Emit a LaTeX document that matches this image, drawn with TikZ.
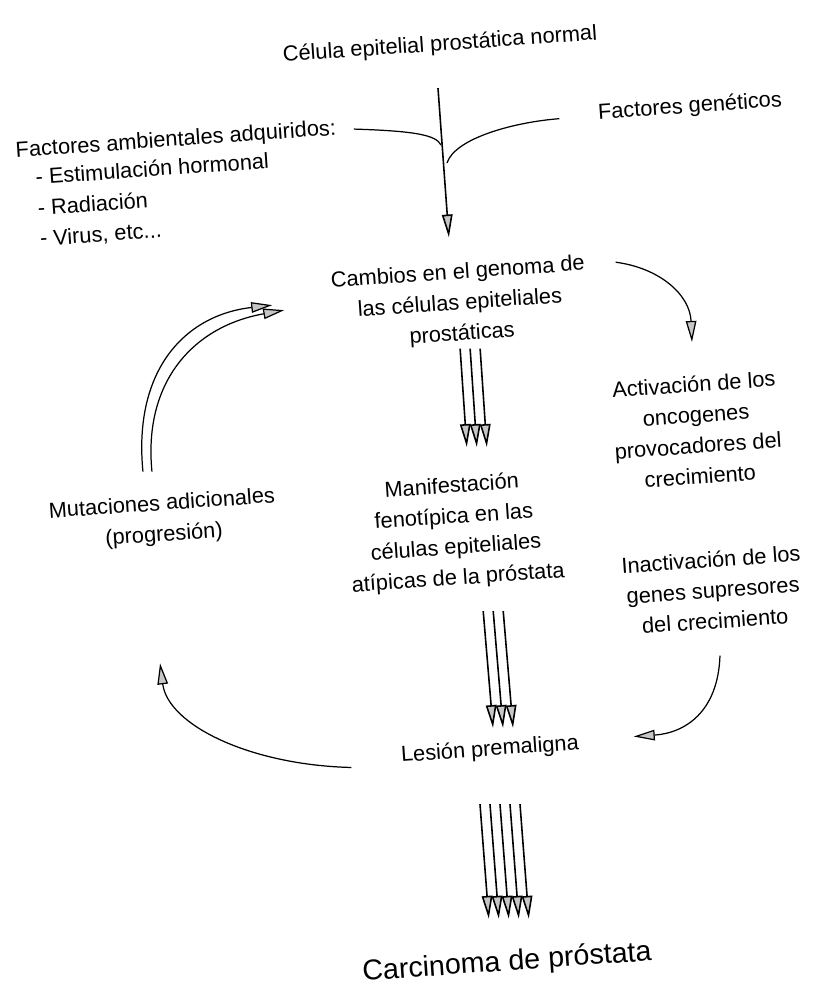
\documentclass[tikz,border=0pt]{standalone}
\usepackage{fontspec}
\setmainfont{Liberation Sans}
\usetikzlibrary{arrows.meta}

\begin{document}
\begin{tikzpicture}[x=0.02cm,y=-0.02cm,
  txt/.style={rotate=4,align=center,inner sep=2pt,font=\fontsize{12.4}{17.5}\selectfont},
  arr/.style={line width=0.9pt,-{Triangle[length=13pt,width=6pt,fill=gray!45]}},
  curv/.style={line width=0.7pt,-{Triangle[length=12pt,width=6pt,fill=gray!45]}},
  feed/.style={line width=0.7pt}]
\useasboundingbox (0,0) rectangle (812,986);
\node[txt] (top) at (440,45) {Célula epitelial prostática normal};
\node[txt] (gen) at (690,107) {Factores genéticos};
\node[txt,anchor=west] (amb) at (12,152) {Factores ambientales adquiridos:};
\node[txt,anchor=north west,align=left] (ambl) at (31,165) {- Estimulación hormonal\\- Radiación\\- Virus, etc...};
\node[txt] (cambios) at (460,304) {Cambios en el genoma de\\las células epiteliales\\prostáticas};
\node[txt] (act) at (697,430) {Activación de los\\oncogenes\\provocadores del\\crecimiento};
\node[txt] (manif) at (455,533) {Manifestación\\fenotípica en las\\células epiteliales\\atípicas de la próstata};
\node[txt] (mut) at (163,520) {Mutaciones adicionales\\(progresión)};
\node[txt] (inact) at (713,590) {Inactivación de los\\genes supresores\\del crecimiento};
\node[txt] (les) at (490,750) {Lesión premaligna};
\node[txt,font=\fontsize{16.3}{20}\selectfont] (carc) at (507,963) {Carcinoma de próstata};
\coordinate (ja) at (441,145);
\coordinate (jg) at (447,163);
\draw[arr] ([shift={(-3,29)}]top.south) -- ([shift={(-8,-22)}]cambios.north);
\draw[feed] ([shift={(14,0)}]amb.east) .. controls (415,131) and (436,135) .. (ja);
\draw[feed] ([shift={(-35,5)}]gen.west) .. controls (515,122) and (455,138) .. (jg);
\foreach \i in {-1,0,1}
  \draw[arr] ([shift={(7+10*\i,0)}]cambios.south) -- ([shift={(26+10*\i,-26)}]manif.north);
\foreach \i in {-1,0,1}
  \draw[arr] ([shift={(34+10*\i,18)}]manif.south) -- ([shift={(14+10*\i,-8)}]les.north);
\foreach \i in {-2,...,2}
  \draw[arr] ([shift={(9+10*\i,40)}]les.south) -- ([shift={(3+10*\i,-27)}]carc.north);
\draw[curv] ([shift={(28,12)}]cambios.north east) .. controls (660,268) and (690,295) .. ([shift={(-1,-30)}]act.north);
\draw[curv] ([shift={(4,23)}]inact.south) .. controls (718,712) and (685,733) .. ([shift={(51,-7)}]les.east);
\draw[curv] ([shift={(-46,11)}]les.west) .. controls (250,765) and (168,725) .. ([shift={(-5,114)}]mut.south);
\draw[curv] ([shift={(-18,-19)}]mut.north) .. controls (133,370) and (185,315) .. ([shift={(-57,-8)}]cambios.west);
\draw[curv] ([shift={(-9,-19)}]mut.north) .. controls (143,380) and (195,326) .. ([shift={(-45,-3)}]cambios.west);
\end{tikzpicture}
\end{document}
